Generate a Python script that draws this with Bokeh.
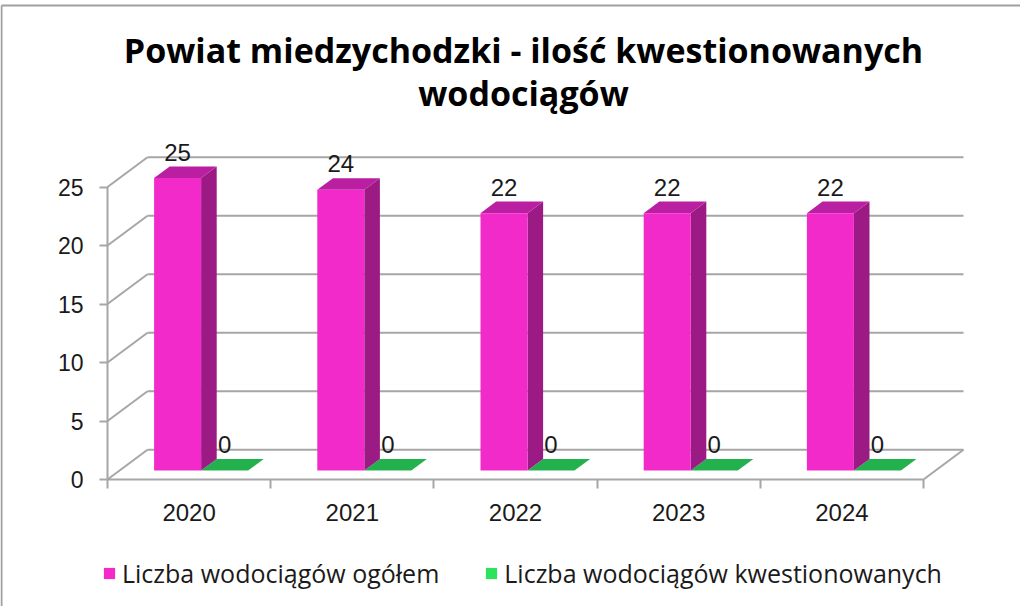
from bokeh.plotting import figure
from bokeh.models import (Range1d, FixedTicker, ColumnDataSource, Label, Legend, LegendItem)
from bokeh.core.properties import value
from bokeh.embed import file_html
from bokeh.resources import INLINE

# ---------------- data ----------------
years = ["2020", "2021", "2022", "2023", "2024"]
total = [25, 24, 22, 22, 22]          # Liczba wodociągów ogółem
questioned = [0, 0, 0, 0, 0]          # Liczba wodociągów kwestionowanych
y_ticks = [0, 5, 10, 15, 20, 25]
series_names = ["Liczba wodociągów ogółem", "Liczba wodociągów kwestionowanych"]
title_lines = ["Powiat miedzychodzki - ilość kwestionowanych", "wodociągów"]

# ---------------- style / geometry ----------------
W, H = 1020, 606
CAT_PX = 163.2      # pixels per category
UNIT_PX = 11.7      # pixels per value unit
ORIGIN_X = 107      # canvas px of x=0 (from left)
ORIGIN_Y = 127      # canvas px of y=0 (from bottom)
DX = 40.0 / CAT_PX  # depth offset (x, data units)
DY = 29.7 / UNIT_PX # depth offset (y, data units)
F0, F1 = 0.30, 0.69 # bar depth span (fraction of floor depth)
BAR_W = 0.288

x0r = -ORIGIN_X / CAT_PX
y0r = -ORIGIN_Y / UNIT_PX

GRID = "#a6a6a6"
FRAME = "#a0a0a0"
MAG = dict(front="#f22aca", side="#9b1a84", top="#b91fa0")
GRN = dict(front="#2de35e", side="#1a8a3a", top="#22b14c")
NUM_FONT = "Liberation Sans"
TXT_FONT = "Open Sans"
TXT_COL = "#1a1a1a"

p = figure(width=W, height=H, output_backend="svg", toolbar_location=None,
           x_range=Range1d(x0r, x0r + W / CAT_PX), y_range=Range1d(y0r, y0r + H / UNIT_PX),
           min_border=0, outline_line_color=None,
           background_fill_color="white", border_fill_color="white")
p.xgrid.visible = False
p.ygrid.visible = False

n = len(years)

# ---------------- chart-area border (left & top) ----------------
bx = x0r + 1.0 / CAT_PX
by = y0r + (H - 5.0) / UNIT_PX
p.segment([bx, bx], [y0r, by], [bx, x0r + W / CAT_PX], [by, by],
          line_color=FRAME, line_width=2)

# ---------------- walls / floor ----------------
back_x0, back_x1, back_y0, back_y1 = [], [], [], []
side_x0, side_x1, side_y0, side_y1 = [], [], [], []
for v in y_ticks:
    back_x0.append(DX); back_x1.append(n + DX)
    back_y0.append(v + DY); back_y1.append(v + DY)
    side_x0.append(0); side_x1.append(DX)
    side_y0.append(v); side_y1.append(v + DY)
p.segment(back_x0, back_y0, back_x1, back_y1, line_color=GRID, line_width=2)
p.segment(side_x0, side_y0, side_x1, side_y1, line_color=GRID, line_width=2)
# floor right edge, front floor line, front value axis line
p.segment([n, 0, 0], [0, 0, 0], [n + DX, n, 0], [DY, 0, max(y_ticks)],
          line_color=GRID, line_width=2)

# ---------------- bars ----------------
def faces(x0, x1, v):
    fx, fy = F0 * DX, F0 * DY
    bx_, by_ = F1 * DX, F1 * DY
    front = ([x0 + fx, x1 + fx, x1 + fx, x0 + fx], [fy, fy, v + fy, v + fy])
    side = ([x1 + fx, x1 + bx_, x1 + bx_, x1 + fx], [fy, by_, v + by_, v + fy])
    top = ([x0 + fx, x1 + fx, x1 + bx_, x0 + bx_], [v + fy, v + fy, v + by_, v + by_])
    return front, side, top

def draw_series(vals, offset, col):
    fr, sd, tp = {"xs": [], "ys": []}, {"xs": [], "ys": []}, {"xs": [], "ys": []}
    for i, v in enumerate(vals):
        c = i + 0.5
        x0 = c + offset
        f, s, t = faces(x0, x0 + BAR_W, v)
        for d, face in ((fr, f), (sd, s), (tp, t)):
            d["xs"].append(face[0]); d["ys"].append(face[1])
    p.patches("xs", "ys", source=ColumnDataSource(sd), fill_color=col["side"], line_color=None)
    p.patches("xs", "ys", source=ColumnDataSource(tp), fill_color=col["top"], line_color=None)
    r = p.patches("xs", "ys", source=ColumnDataSource(fr), fill_color=col["front"], line_color=None)
    return r

r_green = draw_series(questioned, 0.0, GRN)
r_mag = draw_series(total, -BAR_W, MAG)

# ---------------- data labels ----------------
lab_x, lab_y, lab_t = [], [], []
for i in range(n):
    c = i + 0.5
    lab_x.append(c - BAR_W / 2 + F0 * DX); lab_y.append(total[i] + F0 * DY); lab_t.append(str(total[i]))
    lab_x.append(c + BAR_W / 2 + F0 * DX); lab_y.append(questioned[i] + F0 * DY); lab_t.append(str(questioned[i]))
p.text(x=lab_x, y=lab_y, text=lab_t, text_align="center", text_baseline="middle",
       y_offset=-26, text_font=value(NUM_FONT), text_font_size="24px", text_color=TXT_COL)

# ---------------- axes ----------------
ya = p.yaxis[0]
ya.fixed_location = 0
ya.ticker = FixedTicker(ticks=y_ticks, minor_ticks=[])
ya.axis_line_color = None
ya.major_tick_line_color = GRID
ya.major_tick_line_width = 2
ya.major_tick_out = 8
ya.major_tick_in = 0
ya.minor_tick_line_color = None
ya.major_label_standoff = 16
ya.major_label_text_font = NUM_FONT
ya.major_label_text_font_size = "23px"
ya.major_label_text_color = TXT_COL

xa = p.xaxis[0]
xa.fixed_location = 0
centers = [i + 0.5 for i in range(n)]
xa.ticker = FixedTicker(ticks=centers, minor_ticks=list(range(n + 1)))
xa.major_label_overrides = {c: y for c, y in zip(centers, years)}
xa.axis_line_color = None
xa.major_tick_line_color = None
xa.major_tick_out = 0
xa.major_tick_in = 0
xa.minor_tick_line_color = GRID
xa.minor_tick_line_width = 2
xa.minor_tick_out = 9
xa.minor_tick_in = 0
xa.major_label_standoff = 15
xa.major_label_text_font = NUM_FONT
xa.major_label_text_font_size = "24px"
xa.major_label_text_color = TXT_COL

# ---------------- title ----------------
for txt, yy in zip(title_lines, [557, 514]):
    p.add_layout(Label(x=523, y=yy, x_units="screen", y_units="screen", text=txt,
                       text_align="center", text_baseline="middle",
                       text_font=TXT_FONT, text_font_style="bold", text_font_size="34px",
                       text_color="#000000"))

# ---------------- legend ----------------
legend = Legend(items=[LegendItem(label=series_names[0], renderers=[r_mag]),
                       LegendItem(label=series_names[1], renderers=[r_green])],
                orientation="horizontal", location=(102, 16),
                glyph_width=14, glyph_height=14, label_standoff=6, spacing=45,
                padding=0, margin=0, border_line_color=None, background_fill_alpha=0,
                label_text_font=TXT_FONT, label_text_font_size="25px",
                label_text_color=TXT_COL)
p.add_layout(legend, "center")

open("out.html", "w").write(file_html(p, INLINE))
